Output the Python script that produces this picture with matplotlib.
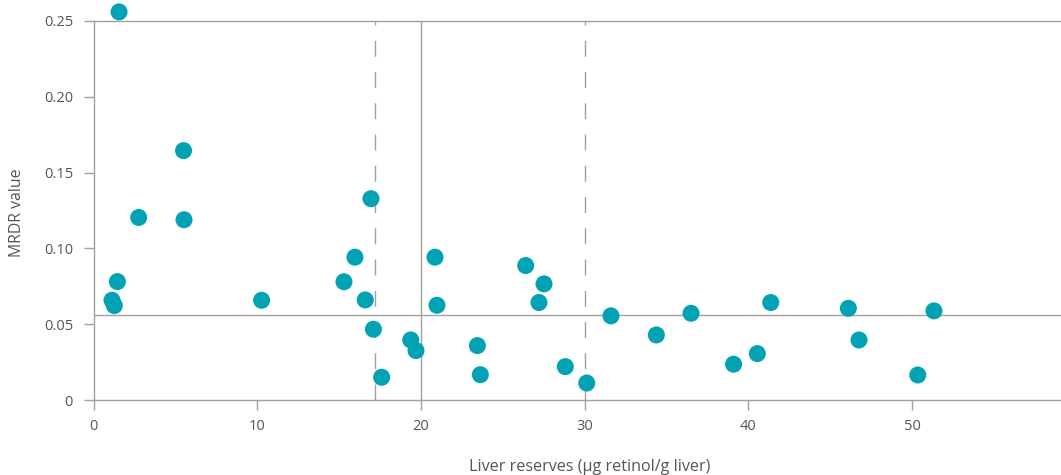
import matplotlib
matplotlib.use("Agg")
import matplotlib.pyplot as plt

# Liver retinol reserves vs. MRDR value
liver_reserves = [1.56, 5.5, 2.76, 5.53, 1.46, 1.13, 1.27, 10.27, 15.3, 15.97,
                  16.95, 16.6, 17.1, 17.6, 19.38, 19.7, 20.86, 20.98, 23.45, 23.63,
                  26.4, 27.52, 27.21, 28.82, 30.13, 31.61, 34.38, 36.5, 39.1, 40.55,
                  41.37, 46.11, 46.76, 50.35, 51.34]
mrdr_values = [0.256, 0.1645, 0.1204, 0.1189, 0.0781, 0.0658, 0.0623, 0.0658, 0.078, 0.0942,
               0.1328, 0.066, 0.0467, 0.015, 0.0396, 0.0326, 0.0942, 0.0625, 0.0359, 0.0167,
               0.0887, 0.0766, 0.0643, 0.022, 0.0112, 0.0555, 0.0429, 0.0572, 0.0236, 0.0306,
               0.0643, 0.0605, 0.0396, 0.0165, 0.0588]

x_ticks = [0, 10, 20, 30, 40, 50]
y_ticks = [0, 0.05, 0.10, 0.15, 0.20, 0.25]
y_tick_labels = ["0", "0.05", "0.10", "0.15", "0.20", "0.25"]

mrdr_cutoff = 0.0563
reserve_cutoff = 20
reserve_bounds = [17.2, 30]

axis_grey = "#a0a0a0"
text_grey = "#555555"
teal = "#00a2b3"

plt.rcParams["font.family"] = ["Open Sans", "DejaVu Sans"]

fig = plt.figure(figsize=(10.61, 4.75), dpi=100)
ax = fig.add_axes([93.5 / 1061, 1 - 400 / 475, 1 - 93.5 / 1061, (400 - 21) / 475])

ax.set_xlim(0, 59.1)
ax.set_ylim(0, 0.25)

ax.spines["right"].set_visible(False)
for side in ["left", "bottom", "top"]:
    ax.spines[side].set_color(axis_grey)
    ax.spines[side].set_linewidth(1.0)

ax.axhline(mrdr_cutoff, color=axis_grey, lw=1.0, zorder=1)
ax.axvline(reserve_cutoff, color=axis_grey, lw=1.0, zorder=1)
for xb in reserve_bounds:
    ax.axvline(xb, color=axis_grey, lw=1.0, dashes=(11.5, 11), zorder=1)

ax.scatter(liver_reserves, mrdr_values, s=150, color=teal, edgecolors="none",
           zorder=3, clip_on=False)

ax.set_xticks(x_ticks)
ax.set_xticklabels([str(t) for t in x_ticks])
ax.set_yticks(y_ticks)
ax.set_yticklabels(y_tick_labels)
ax.tick_params(axis="both", direction="out", length=7.2, width=1.0, color=axis_grey,
               labelcolor=text_grey, labelsize=10.5)
ax.tick_params(axis="x", pad=6.5)
ax.tick_params(axis="y", pad=7.5)

ax.set_xlabel("Liver reserves (µg retinol/g liver)", color=text_grey, fontsize=11.6)
ax.xaxis.set_label_coords((590 - 93.5) / (1061 - 93.5), -(467 - 400) / 379, transform=ax.transAxes)
ax.xaxis.label.set_va("center")
ax.set_ylabel("MRDR value", color=text_grey, fontsize=11.4)
ax.yaxis.set_label_coords(-(93.5 - 17.5) / (1061 - 93.5), (400 - 213) / 379)
ax.yaxis.label.set_va("center")

fig.savefig("out.png", dpi=100)
